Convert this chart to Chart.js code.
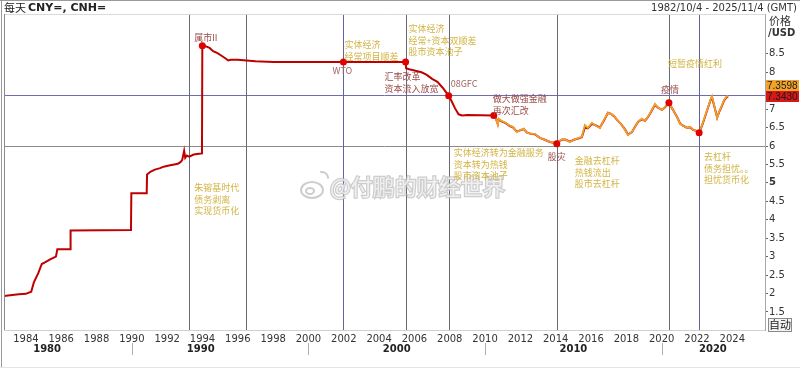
<!DOCTYPE html>
<html>
<head>
<meta charset="utf-8">
<script src="https://cdn.jsdelivr.net/npm/chart.js@4/dist/chart.umd.min.js"></script>
<style>
  html, body { margin: 0; padding: 0; background: #fff; }
  #wrap { width: 800px; height: 370px; }
</style>
</head>
<body>
<div id="wrap"><canvas id="fx" width="800" height="370"></canvas></div>
<script>
// USD/CNY (onshore) history, decimal years
var cnyYears = [1982.76, 1983.10, 1983.60, 1984.00, 1984.30, 1984.45, 1984.70, 1984.90, 1985.10, 1985.40,
  1985.70, 1985.78, 1986.50, 1986.53, 1989.95, 1989.97, 1990.84, 1990.86, 1991.05, 1991.30,
  1991.60, 1991.80, 1992.10, 1992.40, 1992.60, 1992.75, 1992.85, 1992.96, 1993.02, 1993.10,
  1993.25, 1993.50, 1993.80, 1993.97, 1993.99, 1994.20, 1994.40, 1994.60, 1994.85, 1995.10,
  1995.35, 1995.45, 1995.60, 1996.00, 1996.50, 1997.00, 1998.00, 2001.98, 2005.50, 2005.53,
  2005.70, 2006.00, 2006.40, 2006.70, 2007.00, 2007.30, 2007.60, 2007.94, 2008.10, 2008.30,
  2008.50, 2008.70, 2009.00, 2010.49,
  2010.60, 2010.72, 2010.77, 2010.94, 2011.17, 2011.40, 2011.57, 2011.79, 2012.02,
  2012.19, 2012.36, 2012.59, 2012.82, 2013.10, 2013.38, 2013.67, 2013.89, 2014.06, 2014.23,
  2014.40, 2014.57, 2014.80, 2015.03, 2015.31, 2015.48, 2015.65, 2015.82, 2016.05, 2016.27,
  2016.50, 2016.73, 2016.96, 2017.13, 2017.30, 2017.52, 2017.69, 2017.92, 2018.09, 2018.32,
  2018.49, 2018.66, 2018.88, 2019.05, 2019.22, 2019.45, 2019.62, 2019.79, 2020.02, 2020.19,
  2020.41, 2020.64, 2020.87, 2021.04, 2021.21, 2021.44, 2021.61, 2021.78, 2021.95, 2022.12,
  2022.29, 2022.46, 2022.63, 2022.80, 2022.85, 2023.03, 2023.14, 2023.25, 2023.36, 2023.53,
  2023.65, 2023.76];
var cnyValues = [1.93, 1.95, 1.98, 1.99, 2.05, 2.30, 2.55, 2.80, 2.85, 2.93,
  3.00, 3.20, 3.20, 3.71, 3.72, 4.72, 4.72, 5.23, 5.30, 5.36,
  5.40, 5.44, 5.47, 5.50, 5.52, 5.56, 5.62, 5.87, 5.68, 5.74,
  5.71, 5.77, 5.79, 5.80, 8.72, 8.70, 8.66, 8.57, 8.52, 8.44,
  8.36, 8.32, 8.34, 8.34, 8.32, 8.30, 8.28, 8.28, 8.28, 8.11,
  8.08, 8.05, 8.00, 7.93, 7.82, 7.74, 7.58, 7.36, 7.22, 7.02,
  6.86, 6.83, 6.84, 6.83,
  6.76, 6.60, 6.72, 6.67, 6.62, 6.54, 6.51, 6.39, 6.43,
  6.46, 6.37, 6.33, 6.32, 6.22, 6.17, 6.11, 6.09, 6.06, 6.14,
  6.18, 6.17, 6.12, 6.17, 6.21, 6.24, 6.50, 6.48, 6.60, 6.56,
  6.50, 6.69, 6.90, 6.87, 6.81, 6.68, 6.60, 6.45, 6.31, 6.38,
  6.52, 6.65, 6.73, 6.68, 6.78, 6.97, 7.12, 7.04, 6.98, 7.05,
  7.16, 6.98, 6.79, 6.61, 6.55, 6.49, 6.51, 6.44, 6.41, 6.36,
  6.56, 6.80, 7.05, 7.29, 7.32, 6.98, 6.77, 6.92, 7.03, 7.23,
  7.31, 7.343];

// USD/CNH (offshore) from 2010
var cnhYears = [2010.49, 2010.60, 2010.72, 2010.77, 2010.94, 2011.17, 2011.40, 2011.57, 2011.79, 2012.02,
  2012.19, 2012.36, 2012.59, 2012.82, 2013.10, 2013.38, 2013.67, 2013.89, 2014.06, 2014.23,
  2014.40, 2014.57, 2014.80, 2015.03, 2015.31, 2015.48, 2015.65, 2015.82, 2016.05, 2016.27,
  2016.50, 2016.73, 2016.96, 2017.13, 2017.30, 2017.52, 2017.69, 2017.92, 2018.09, 2018.32,
  2018.49, 2018.66, 2018.88, 2019.05, 2019.22, 2019.45, 2019.62, 2019.79, 2020.02, 2020.19,
  2020.41, 2020.64, 2020.87, 2021.04, 2021.21, 2021.44, 2021.61, 2021.78, 2021.95, 2022.12,
  2022.29, 2022.46, 2022.63, 2022.80, 2022.85, 2023.03, 2023.14, 2023.25, 2023.36, 2023.53,
  2023.65, 2023.76];
var cnhValues = [6.85, 6.76, 6.57, 6.74, 6.68, 6.63, 6.55, 6.52, 6.38, 6.44,
  6.47, 6.36, 6.33, 6.33, 6.22, 6.17, 6.11, 6.09, 6.06, 6.14,
  6.19, 6.17, 6.11, 6.17, 6.22, 6.25, 6.57, 6.49, 6.63, 6.55,
  6.49, 6.71, 6.90, 6.87, 6.82, 6.68, 6.60, 6.44, 6.30, 6.38,
  6.52, 6.66, 6.74, 6.68, 6.79, 6.98, 7.14, 7.04, 6.98, 7.06,
  7.17, 6.98, 6.79, 6.60, 6.55, 6.49, 6.52, 6.44, 6.41, 6.36,
  6.57, 6.82, 7.06, 7.31, 7.36, 6.98, 6.76, 6.93, 7.04, 7.25,
  7.33, 7.36];

var eventYears = [1993.99, 2001.98, 2005.50, 2007.94, 2010.49, 2014.06, 2020.41, 2022.12];
var eventValues = [8.72, 8.28, 8.28, 7.36, 6.83, 6.06, 7.17, 6.36];

var greyMarkers = [1993.25, 1996.48, 2005.50, 2007.94, 2014.06, 2020.41];
var blueMarkers = [2001.98, 2022.12];
var levelBlue = 7.37;
var levelGrey = 6.0;

var xTickYears = [1984, 1986, 1988, 1990, 1992, 1994, 1996, 1998, 2000, 2002, 2004,
  2006, 2008, 2010, 2012, 2014, 2016, 2018, 2020, 2022, 2024];
var yTickValues = [1.5, 2, 2.5, 3, 3.5, 4, 4.5, 5, 5.5, 6, 6.5, 7, 7.5, 8, 8.5];
var decadeLabels = ['1980', '1990', '2000', '2010', '2020'];
var decadeLabelYears = [1985.2, 1993.9, 2005.0, 2015.0, 2022.9];
var decadeBreaks = [1990, 2000, 2010, 2020];

var lastCnh = 7.3598;
var lastCny = 7.3430;

var notes = [
  { x: 1993.53, y: 8.93, tone: 'red', lines: ['属市II'] },
  { x: 2002.04, y: 8.74, tone: 'gold', lines: ['实体经济', '经常项目顺差'] },
  { x: 2001.36, y: 8.04, tone: 'grey', lines: ['WTO'] },
  { x: 2005.67, y: 9.18, tone: 'gold', lines: ['实体经济', '经常+资本双顺差', '股市资本池子'] },
  { x: 2004.31, y: 7.88, tone: 'red', lines: ['汇率改革', '资本流入放宽'] },
  { x: 2008.05, y: 7.69, tone: 'grey', lines: ['08GFC'] },
  { x: 2010.43, y: 7.28, tone: 'red', lines: ['做大做强金融', '再次汇改'] },
  { x: 2008.22, y: 5.81, tone: 'gold', lines: ['实体经济转为金融服务', '资本转为热钱', '股市资本池子'] },
  { x: 2013.55, y: 5.71, tone: 'red', lines: ['股灾'] },
  { x: 2015.08, y: 5.60, tone: 'gold', lines: ['金融去杠杆', '热钱流出', '股市去杠杆'] },
  { x: 2019.96, y: 7.52, tone: 'red', lines: ['疫情'] },
  { x: 2020.36, y: 8.23, tone: 'gold', lines: ['短暂疫情红利'] },
  { x: 2022.40, y: 5.71, tone: 'gold', lines: ['去杠杆', '债务担忧。。', '担忧货币化'] },
  { x: 1993.53, y: 4.86, tone: 'gold', lines: ['朱镕基时代', '债务剥离', '实现货币化'] }
];

function pairs(xs, ys) {
  return xs.map(function (t, i) { return { x: t, y: ys[i] }; });
}

var toneColor = { gold: '#d2b443', red: '#9c4a4a', grey: '#a06464' };
var cjk = '"Noto Sans CJK SC", sans-serif';
var latin = '"DejaVu Sans", Verdana, sans-serif';

var overlay = {
  id: 'overlay',
  beforeDatasetsDraw: function (chart) {
    var ctx = chart.ctx, a = chart.chartArea, x = chart.scales.x, y = chart.scales.y;
    ctx.save();
    ctx.lineWidth = 1;
    var py = Math.round(y.getPixelForValue(levelGrey)) + 0.5;
    ctx.strokeStyle = '#8c8c8c';
    ctx.beginPath(); ctx.moveTo(a.left, py); ctx.lineTo(a.right, py); ctx.stroke();
    py = Math.round(y.getPixelForValue(levelBlue)) + 0.5;
    ctx.strokeStyle = '#6c6cb4';
    ctx.beginPath(); ctx.moveTo(a.left, py); ctx.lineTo(a.right, py); ctx.stroke();
    greyMarkers.forEach(function (t) {
      var px = Math.round(x.getPixelForValue(t)) + 0.5;
      ctx.strokeStyle = '#6a6a74';
      ctx.beginPath(); ctx.moveTo(px, a.top); ctx.lineTo(px, a.bottom); ctx.stroke();
    });
    blueMarkers.forEach(function (t) {
      var px = Math.round(x.getPixelForValue(t)) + 0.5;
      ctx.strokeStyle = '#62629c';
      ctx.beginPath(); ctx.moveTo(px, a.top); ctx.lineTo(px, a.bottom); ctx.stroke();
    });
    ctx.restore();
  },
  afterDraw: function (chart) {
    var ctx = chart.ctx, a = chart.chartArea, x = chart.scales.x, y = chart.scales.y;
    ctx.save();

    // watermark
    ctx.globalAlpha = 0.7;
    ctx.font = '22px ' + cjk;
    ctx.textBaseline = 'middle';
    ctx.textAlign = 'left';
    ctx.lineWidth = 2.5;
    ctx.strokeStyle = '#b8b8b8';
    ctx.fillStyle = '#ffffff';
    ctx.strokeText('@付鹏的财经世界', 330, 187);
    ctx.fillText('@付鹏的财经世界', 330, 187);
    ctx.lineWidth = 2;
    ctx.beginPath(); ctx.ellipse(312, 190, 11, 8, 0, 0, Math.PI * 2); ctx.stroke();
    ctx.beginPath(); ctx.ellipse(310, 191, 4, 3, 0, 0, Math.PI * 2); ctx.stroke();
    ctx.beginPath(); ctx.arc(322, 178, 6, -Math.PI * 0.6, 0.1); ctx.stroke();
    ctx.globalAlpha = 1;

    // annotations
    ctx.font = '9px ' + cjk;
    notes.forEach(function (n) {
      var px = x.getPixelForValue(n.x), py = y.getPixelForValue(n.y);
      ctx.fillStyle = toneColor[n.tone];
      n.lines.forEach(function (s, i) { ctx.fillText(s, px, py + i * 11.5); });
    });

    // frame
    ctx.strokeStyle = '#dadada';
    ctx.lineWidth = 1;
    ctx.beginPath(); ctx.moveTo(a.left, a.top + 0.5); ctx.lineTo(a.right, a.top + 0.5); ctx.stroke();
    ctx.strokeStyle = '#d0d0d0';
    ctx.beginPath(); ctx.moveTo(a.left, a.bottom + 0.5); ctx.lineTo(a.right, a.bottom + 0.5); ctx.stroke();
    ctx.strokeStyle = '#8a8a8a';
    ctx.beginPath(); ctx.moveTo(a.left + 0.5, a.top); ctx.lineTo(a.left + 0.5, a.bottom); ctx.stroke();
    ctx.strokeStyle = '#9a9a9a';
    ctx.beginPath(); ctx.moveTo(1.5, 0); ctx.lineTo(1.5, 368); ctx.stroke();
    ctx.beginPath(); ctx.moveTo(0, 0.5); ctx.lineTo(800, 0.5); ctx.stroke();
    ctx.strokeStyle = '#e4e4e4';
    ctx.beginPath(); ctx.moveTo(0, 367.5); ctx.lineTo(800, 367.5); ctx.stroke();

    // header
    ctx.fillStyle = '#222';
    ctx.textBaseline = 'middle';
    ctx.font = '11px ' + cjk;
    ctx.fillText('每天', 4, 8);
    ctx.font = 'bold 11px ' + latin;
    ctx.fillText('CNY=, CNH=', 28, 8);
    ctx.font = '10px ' + latin;
    ctx.textAlign = 'right';
    ctx.fillStyle = '#333';
    ctx.fillText('1982/10/4 - 2025/11/4 (GMT)', 797, 8);

    // price axis title
    ctx.textAlign = 'left';
    ctx.font = '11px ' + cjk;
    ctx.fillText('价格', 769, 21);
    ctx.font = 'bold 10px ' + latin;
    ctx.fillText('/USD', 768, 33);

    // last value tags
    var ry = Math.round(y.getPixelForValue(lastCny));
    ctx.fillStyle = '#d81818';
    ctx.fillRect(766, ry - 5, 33, 11);
    ctx.fillStyle = '#f2a32a';
    ctx.fillRect(766, ry - 16, 33, 11);
    ctx.fillStyle = '#1a1a1a';
    ctx.font = '10px "Liberation Sans", Arial, sans-serif';
    ctx.fillText(lastCnh.toFixed(4), 767, ry - 10);
    ctx.fillText(lastCny.toFixed(4), 767, ry + 1);

    // auto button
    ctx.fillStyle = '#f4f4f4';
    ctx.fillRect(768, 318, 23, 13);
    ctx.strokeStyle = '#8a8a8a';
    ctx.strokeRect(768.5, 318.5, 23, 13);
    ctx.fillStyle = '#222';
    ctx.font = '11px "Noto Sans CJK SC", serif';
    ctx.fillText('自动', 769, 325);

    // decade row
    ctx.font = 'bold 10px ' + latin;
    ctx.textAlign = 'center';
    ctx.fillStyle = '#222';
    decadeLabels.forEach(function (s, i) {
      ctx.fillText(s, x.getPixelForValue(decadeLabelYears[i]), 349);
    });
    ctx.strokeStyle = '#b0b0b0';
    decadeBreaks.forEach(function (t) {
      var px = Math.round(x.getPixelForValue(t)) + 0.5;
      ctx.beginPath(); ctx.moveTo(px, 343); ctx.lineTo(px, 355); ctx.stroke();
    });
    ctx.restore();
  }
};

new Chart(document.getElementById('fx').getContext('2d'), {
  type: 'line',
  data: {
    datasets: [
      {
        label: 'events',
        data: pairs(eventYears, eventValues),
        showLine: false,
        pointRadius: 3.5,
        pointBackgroundColor: '#e00000',
        pointBorderColor: '#e00000',
        borderWidth: 0
      },
      {
        label: 'CNH=',
        data: pairs(cnhYears, cnhValues),
        borderColor: '#f0a02c',
        borderWidth: 1.8,
        pointRadius: 0,
        tension: 0
      },
      {
        label: 'CNY=',
        data: pairs(cnyYears, cnyValues),
        borderColor: '#bf0000',
        borderWidth: 2,
        pointRadius: 0,
        tension: 0
      }
    ]
  },
  options: {
    responsive: false,
    animation: false,
    devicePixelRatio: 1,
    layout: { padding: { left: 4, top: 14, right: 0, bottom: 0 } },
    plugins: { legend: { display: false }, tooltip: { enabled: false } },
    scales: {
      x: {
        type: 'linear',
        min: 1982.76,
        max: 2025.85,
        afterBuildTicks: function (s) { s.ticks = xTickYears.map(function (v) { return { value: v }; }); },
        afterFit: function (s) { s.height = 40; },
        grid: { display: false, drawTicks: false },
        border: { display: false },
        ticks: {
          autoSkip: false,
          maxRotation: 0,
          padding: 3,
          color: '#333',
          font: { family: latin, size: 10 },
          callback: function (v) { return String(v); }
        }
      },
      y: {
        type: 'linear',
        position: 'right',
        min: 1.01,
        max: 9.58,
        afterBuildTicks: function (s) { s.ticks = yTickValues.map(function (v) { return { value: v }; }); },
        afterFit: function (s) { s.width = 35; },
        grid: { drawOnChartArea: false, drawTicks: true, tickLength: 3, color: '#666' },
        border: { display: true, color: '#a8a8a8' },
        ticks: {
          padding: 1,
          color: '#333',
          font: function (c) {
            return { family: latin, size: 10, weight: c.tick && c.tick.value === 5 ? 'bold' : 'normal' };
          },
          callback: function (v) { return String(v); }
        }
      }
    }
  },
  plugins: [overlay]
});
</script>
</body>
</html>
